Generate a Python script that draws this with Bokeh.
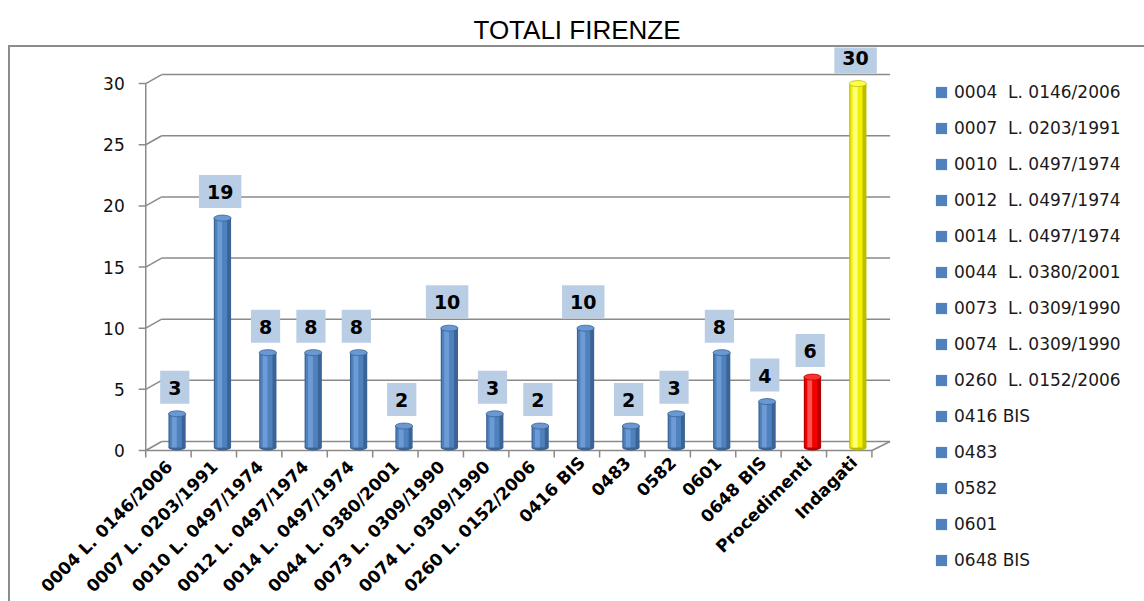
import math
from bokeh.plotting import figure
from bokeh.models import (Range1d, LegendItem, Legend, ColumnDataSource, Div)
from bokeh.layouts import column
from bokeh.transform import dodge
from bokeh.core.properties import value
from bokeh.embed import file_html
from bokeh.resources import INLINE

# ---------------- data ----------------
categories = [
    "0004  L. 0146/2006", "0007  L. 0203/1991", "0010  L. 0497/1974",
    "0012  L. 0497/1974", "0014  L. 0497/1974", "0044  L. 0380/2001",
    "0073  L. 0309/1990", "0074  L. 0309/1990", "0260  L. 0152/2006",
    "0416 BIS", "0483", "0582", "0601", "0648 BIS", "Procedimenti", "Indagati",
]
values = [3, 19, 8, 8, 8, 2, 10, 3, 2, 10, 2, 3, 8, 4, 6, 30]
y_ticks = [0, 5, 10, 15, 20, 25, 30]
legend_count = 14  # the first 14 categories appear in the legend

# ---------------- styles ----------------
BLUE = ("#3a6396", "#4f81bd", "#6d9bd6", "#6a98d2")
RED = ("#b80000", "#f20000", "#ff5050", "#ff3030")
YELLOW = ("#bdbd00", "#f2f200", "#ffff80", "#ffff50")
palette = [BLUE] * legend_count + [RED, YELLOW]
AXIS = "#8a8a8a"
FONT = "DejaVu Sans"
FRAME = "2px solid #8c8c8c"

n = len(categories)
pos = [i + 0.5 for i in range(n)]
DX, DY = 0.35, 0.736      # 3D depth offsets (axis units)
SHIFT, W = 0.19, 0.38     # bar offset into depth, bar width
BASE = 0.25
TX, TY = 0.155, 0.572     # 7px tick lengths in axis units

source = ColumnDataSource(dict(
    x=pos, value=values, label=[str(v) for v in values], cat=categories,
    dark=[c[0] for c in palette], mid=[c[1] for c in palette],
    light=[c[2] for c in palette], topc=[c[3] for c in palette],
))

p = figure(width=1136, height=556, output_backend="svg", toolbar_location=None,
           x_range=Range1d(-2.98, 22.05), y_range=Range1d(-12.51, 32.95),
           x_axis_location=None, y_axis_location=None,
           min_border_left=0, min_border_right=0, min_border_top=0,
           min_border_bottom=0, margin=(0, 0, 0, 8))
p.outline_line_color = None
p.grid.visible = False
p.styles = {"border-left": FRAME, "border-top": FRAME}

# back wall gridlines and connectors (3D look)
gx0 = [DX] * len(y_ticks)
gx1 = [n + DX + 0.05] * len(y_ticks)
gy = [t + DY for t in y_ticks]
p.segment(x0=gx0, y0=gy, x1=gx1, y1=gy, line_color=AXIS, line_width=1.5)
p.segment(x0=[0] * len(y_ticks), y0=y_ticks, x1=gx0, y1=gy, line_color=AXIS, line_width=1.5)
p.segment(x0=[n], y0=[0], x1=[n + DX + 0.05], y1=[DY], line_color=AXIS, line_width=1.5)

# value axis (left)
p.segment(x0=[0], y0=[y_ticks[0]], x1=[0], y1=[y_ticks[-1]], line_color=AXIS, line_width=1.5)
p.segment(x0=[-TX] * len(y_ticks), y0=y_ticks, x1=[0] * len(y_ticks), y1=y_ticks,
          line_color=AXIS, line_width=1.5)
p.text(x=[0] * len(y_ticks), y=y_ticks, text=[str(t) for t in y_ticks],
       text_align="right", text_baseline="middle", x_offset=-21,
       text_font=value(FONT), text_font_size="17px", text_color="#111111")

# category axis (bottom)
edges = list(range(n + 1))
p.segment(x0=[0], y0=[0], x1=[n], y1=[0], line_color=AXIS, line_width=1.5)
p.segment(x0=edges, y0=[0] * len(edges), x1=edges, y1=[-TY] * len(edges),
          line_color=AXIS, line_width=1.5)
p.text(x="x", y=0, text="cat", source=source, angle=math.pi / 4,
       text_align="right", text_baseline="middle", x_offset=5, y_offset=9,
       text_font=value(FONT), text_font_style="bold", text_font_size="17px",
       text_color="black")

# cylinders
bx = dodge("x", SHIFT, range=p.x_range)
p.ellipse(x=bx, y=BASE, width=W, height=6, height_units="screen",
          fill_color="dark", line_color=None, source=source)
p.vbar(x=bx, top="value", bottom=BASE, width=W, fill_color="dark", line_color=None, source=source)
mid_r = p.vbar(x=dodge("x", SHIFT - 0.03, range=p.x_range), top="value", bottom=BASE,
               width=W * 0.7, fill_color="mid", line_color=None, source=source)
p.vbar(x=dodge("x", SHIFT - 0.06, range=p.x_range), top="value", bottom=BASE, width=W * 0.28,
       fill_color="light", line_color=None, source=source)
p.ellipse(x=bx, y="value", width=W, height=6, height_units="screen",
          fill_color="topc", line_color="dark", line_width=0.8, source=source)

# data labels
p.text(x=dodge("x", SHIFT - 0.05, range=p.x_range), y="value", text="label", source=source,
       text_align="center", text_baseline="bottom", y_offset=-10,
       text_font=value(FONT), text_font_style="bold", text_font_size="19px",
       text_color="black", background_fill_color="#b9cde5",
       padding=dict(left=8, right=8, top=10, bottom=9))

# legend
items = [LegendItem(label=categories[i], renderers=[mid_r], index=i) for i in range(legend_count)]
legend = Legend(items=items, location=(924, 33), padding=0, margin=0,
                glyph_width=14, glyph_height=14, label_height=20, spacing=16,
                label_standoff=6, label_text_font=FONT, label_text_font_size="17px",
                label_text_color="#1a1a1a", border_line_color=None, background_fill_alpha=0)
p.add_layout(legend)

title = Div(text="TOTALI FIRENZE", width=1144, height=35,
            styles={"text-align": "center", "font-family": "Liberation Sans",
                    "font-size": "26px", "color": "black", "padding-top": "7px",
                    "width": "1144px"})

layout = column(title, p, spacing=0)
open("out.html", "w").write(file_html(layout, INLINE))
